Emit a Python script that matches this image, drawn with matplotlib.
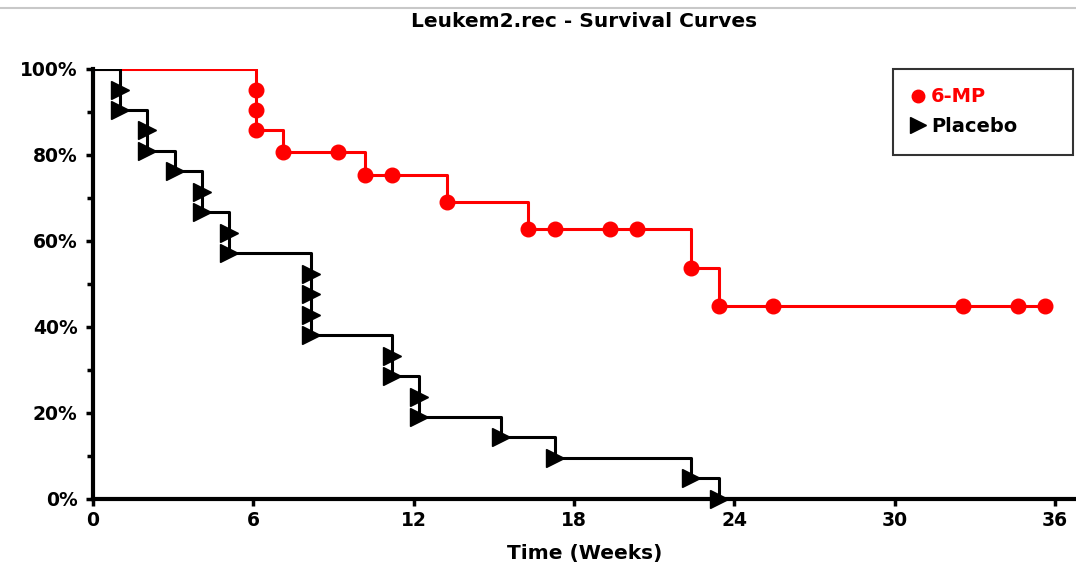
import matplotlib.pyplot as plt
from matplotlib.lines import Line2D
from matplotlib.ticker import FuncFormatter, MultipleLocator

# step curves (weeks, % surviving)
mp_step_t = [0, 6, 7, 10, 13, 16, 22, 23, 35]
mp_step_s = [100, 85.7, 80.7, 75.3, 69.0, 62.8, 53.8, 44.8, 44.8]
pl_step_t = [0, 1, 2, 3, 4, 5, 8, 11, 12, 15, 17, 22, 23]
pl_step_s = [100, 90.5, 81.0, 76.2, 66.7, 57.1, 38.1, 28.6, 19.0, 14.3, 9.5, 4.8, 0]

# event markers
mp_mark_t = [6, 6, 6, 7, 9, 10, 11, 13, 16, 17, 19, 20, 22, 23, 25, 32, 34, 35]
mp_mark_s = [95.2, 90.5, 85.7, 80.7, 80.7, 75.3, 75.3, 69.0, 62.8, 62.8, 62.8,
             62.8, 53.8, 44.8, 44.8, 44.8, 44.8, 44.8]
pl_mark_t = [1, 1, 2, 2, 3, 4, 4, 5, 5, 8, 8, 8, 8, 11, 11, 12, 12, 15, 17, 22, 23]
pl_mark_s = [95.2, 90.5, 85.7, 81.0, 76.2, 71.4, 66.7, 61.9, 57.1, 52.4, 47.6,
             42.9, 38.1, 33.3, 28.6, 23.8, 19.0, 14.3, 9.5, 4.8, 0]

x_ticks = [0, 6, 12, 18, 24, 30, 36]
y_ticks = [0, 20, 40, 60, 80, 100]

# the original program spaces its tick marks a little tighter than its data
tick_scale = 26.72 / 27.2

red = "#ff0000"

fig = plt.figure(figsize=(10.76, 5.74), dpi=100)
ax = fig.add_axes([0.0864, 0.1307, 0.9136, 0.7491])

ax.step(mp_step_t, mp_step_s, where="post", color=red, lw=2.2, zorder=2)
ax.plot(mp_mark_t, mp_mark_s, "o", color=red, ms=10.5, zorder=3, clip_on=False)
ax.step(pl_step_t, pl_step_s, where="post", color="black", lw=2.2, zorder=4)
ax.plot(pl_mark_t, pl_mark_s, ">", color="black", ms=13, zorder=5, clip_on=False)

ax.set_xlim(0, 36.14)
ax.set_ylim(0, 100)
ax.set_xticks([t * tick_scale for t in x_ticks], labels=[str(t) for t in x_ticks])
ax.set_yticks(y_ticks)
ax.yaxis.set_minor_locator(MultipleLocator(10))
ax.yaxis.set_major_formatter(FuncFormatter(lambda v, p: f"{int(v)}%"))

for side in ["top", "right"]:
    ax.spines[side].set_visible(False)
for side in ["left", "bottom"]:
    ax.spines[side].set_linewidth(3)

ax.tick_params(axis="both", which="both", direction="out", width=2.5, length=5,
               labelsize=13.5)
ax.tick_params(axis="y", which="major", pad=6)
ax.tick_params(axis="y", which="minor", length=4)
for lab in ax.get_xticklabels() + ax.get_yticklabels():
    lab.set_fontweight("bold")

ax.set_title("Leukem2.rec - Survival Curves", fontsize=14.5, fontweight="bold", pad=30)
ax.set_xlabel("Time (Weeks)", fontsize=14.5, fontweight="bold", labelpad=10)

handles = [
    Line2D([], [], marker="o", color=red, ls="none", ms=9),
    Line2D([], [], marker=">", color="black", ls="none", ms=11),
]
leg = ax.legend(handles, ["6-MP", "Placebo"], loc="upper left",
                bbox_to_anchor=(0.8138, 0.0, 0.1832, 1.0), mode="expand",
                frameon=True, fancybox=False,
                prop={"weight": "bold", "size": 14}, handletextpad=0.3,
                handlelength=0.7, borderpad=0.95, labelspacing=0.55,
                borderaxespad=0)
leg.get_frame().set_edgecolor("black")
leg.get_frame().set_linewidth(1.5)
leg.get_texts()[0].set_color(red)

# thin window border line at the top
fig.add_artist(Line2D([0, 1], [0.986, 0.986], color="#c8c8c8", lw=1.5))

fig.savefig("out.png", dpi=100)
